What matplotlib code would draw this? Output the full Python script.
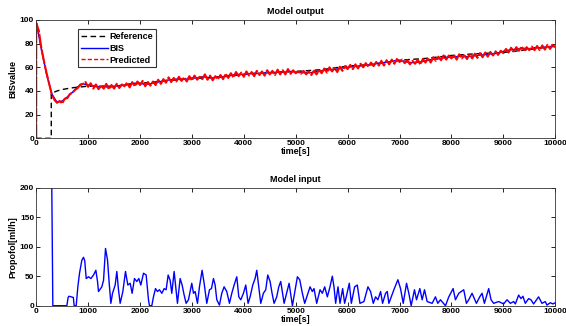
import matplotlib
matplotlib.use("Agg")
import matplotlib.pyplot as plt
import numpy as np

plt.rcParams['font.family'] = ['Liberation Sans', 'DejaVu Sans']
plt.rcParams['font.weight'] = 'bold'

# --- model output: reference trajectory ---
ref_t = [0, 290, 290, 400, 500, 600, 700, 800, 900, 1000, 1500, 2000, 2500, 3000, 3500,
         4000, 4500, 5000, 5500, 6000, 6500, 7000, 7500, 8000, 8500, 9000, 9500, 10000]
ref_y = [0, 0, 38, 40, 41.2, 42, 42.7, 43.2, 43.6, 44, 44, 46.5, 48.5, 50.5, 51.5,
         54, 55.5, 56.5, 58, 61, 62.5, 66, 67.5, 70, 71.5, 72.5, 75, 78]

# --- measured BIS (every 100 s) ---
bis_t = list(range(0, 10001, 100))
bis_y = [98, 75, 54, 37.5, 30.5, 31.5, 35, 39, 43.5, 46, 45, 44, 43.5, 44, 43, 44, 44.5, 45, 46, 46.5,
         46.5, 45.5, 46, 47, 48, 49, 49.5, 50, 50, 50, 51, 51, 52, 51.5, 51, 52, 52, 53, 53.5, 54,
         54, 54.5, 55, 55, 55, 55.5, 55.5, 56, 56, 56.5, 56, 55.5, 55.5, 55.5, 56.5, 57, 58, 58, 58.5, 59.5,
         60, 60.5, 61, 61.5, 62, 62.5, 63.5, 64, 64.5, 65.5, 65.5, 65, 64, 64, 64.5, 65.5, 66.5, 67, 67.5, 68.5,
         68.5, 69, 69.5, 69, 69.5, 70, 70.5, 71, 71.5, 72, 73.5, 74.5, 75, 75.5, 76, 75.5, 76.5, 76.5, 77, 77.5,
         77.5]

# --- model prediction (every 50 s, starts from 0 at t=0) ---
pred_t = [0] + list(range(0, 10001, 50))
pred_y = [0,
          97.5, 91, 76, 65, 55, 46, 37, 32.5, 30, 31.5, 29.5, 33.5, 34, 37.5, 38.5, 41, 42.5, 45.5, 46, 47.5,
          43.5, 46.5, 42, 45.5, 41.5, 44.5, 42, 46, 41.5, 45, 42, 46, 42.5, 45.5, 44, 47, 43, 47.5, 44, 48,
          45, 48.5, 44, 47.5, 44.5, 48, 45, 49.5, 46, 50, 47, 51.5, 47.5, 51, 48, 52, 48.5, 51.5, 48, 52.5,
          49, 53, 49.5, 52, 50, 54, 49.5, 53, 49, 52.5, 50, 53.5, 50, 54.5, 51, 55, 51.5, 56, 52.5, 55.5,
          52, 56.5, 53, 56, 52.5, 57, 53.5, 56.5, 53, 57.5, 54, 57, 53.5, 58, 54, 57.5, 54, 58.5, 54.5, 57.5,
          55, 56.5, 54.5, 57, 54, 56.5, 53.5, 57, 54, 58, 55, 59, 55.5, 60, 56.5, 59.5, 56, 60.5, 57, 61,
          58.5, 62, 58.5, 62.5, 59, 63, 60, 63.5, 60.5, 64, 61, 64.5, 61.5, 65.5, 61.5, 66, 62.5, 66.5, 63, 67,
          64.5, 66.5, 63.5, 66, 62.5, 65.5, 63, 66.5, 62.5, 67, 64, 68, 64, 68.5, 65.5, 69, 66, 70, 66.5, 70,
          67.5, 70.5, 66.5, 71, 67.5, 70, 67, 71, 67.5, 71.5, 68, 72, 68.5, 72.5, 69, 73, 70, 73.5, 70.5, 74,
          72, 75.5, 72.5, 76.5, 73.5, 77, 74, 77.5, 74.5, 77, 74.5, 77.5, 74.5, 78, 74.5, 78.5, 75, 79, 75.5, 79,
          77]

# --- model input: propofol infusion rate ---
u_t = [0, 280, 300, 320, 590, 615, 630, 715, 731, 770, 802, 834, 879, 911, 935, 963, 1008, 1053, 1104, 1149,
       1181, 1200, 1264, 1297, 1335, 1374, 1406, 1438, 1470, 1521, 1553, 1585, 1617, 1669, 1720, 1765, 1810, 1848,
       1893, 1938, 1977, 2015, 2067, 2118, 2163, 2182, 2227, 2259, 2298, 2336, 2375, 2420, 2465, 2503, 2542, 2580,
       2612, 2657, 2696, 2721, 2773, 2811, 2850, 2888, 2933, 2997, 3030, 3062, 3107, 3145, 3196, 3235, 3286, 3338,
       3376, 3415, 3447, 3479, 3530, 3575, 3620, 3671, 3723, 3768, 3813, 3864, 3903, 3941, 3992, 4037, 4082, 4121,
       4172, 4217, 4249, 4287, 4326, 4377, 4422, 4461, 4506, 4544, 4583, 4634, 4673, 4711, 4776, 4872, 4936, 5032,
       5077, 5128, 5173, 5276, 5320, 5352, 5404, 5468, 5513, 5558, 5609, 5660, 5705, 5737, 5769, 5814, 5853, 5904,
       5942, 5981, 6032, 6071, 6135, 6186, 6237, 6314, 6391, 6442, 6494, 6538, 6583, 6635, 6673, 6731, 6763, 6795,
       6891, 6968, 7019, 7071, 7135, 7179, 7224, 7288, 7327, 7391, 7436, 7481, 7532, 7628, 7692, 7737, 7788, 7885,
       7949, 8032, 8077, 8141, 8237, 8288, 8333, 8397, 8481, 8545, 8590, 8635, 8718, 8763, 8814, 8910, 9006, 9071,
       9135, 9199, 9231, 9295, 9340, 9378, 9423, 9487, 9532, 9583, 9679, 9744, 9808, 9840, 9904, 9955, 10000]
u_y = [1500, 1500, 200, 0, 0, 14, 16, 14, 0, 0, 32, 55, 77, 82, 76, 46, 49, 46, 52, 60,
       41, 24, 32, 43, 97, 77, 38, 4, 21, 35, 58, 27, 4, 24, 58, 35, 38, 21,
       46, 41, 46, 35, 55, 52, 10, 0, 0, 15, 29, 24, 27, 21, 29, 27, 52, 43,
       21, 58, 24, 4, 46, 35, 18, 4, 10, 38, 21, 24, 4, 32, 60, 38, 4, 27,
       29, 46, 35, 10, 1, 21, 32, 24, 4, 21, 35, 49, 15, 10, 21, 35, 4, 15,
       35, 46, 60, 32, 4, 21, 27, 52, 41, 21, 4, 15, 32, 41, 4, 38, 0, 49,
       44, 21, 4, 32, 24, 29, 4, 27, 21, 32, 15, 32, 50, 32, 4, 32, 4, 29,
       4, 18, 38, 4, 32, 35, 4, 7, 32, 24, 4, 15, 10, 24, 4, 21, 24, 4,
       27, 44, 29, 4, 38, 21, 0, 27, 10, 29, 10, 27, 7, 4, 15, 4, 10, 0,
       15, 29, 10, 21, 27, 4, 10, 21, 4, 15, 21, 4, 29, 10, 4, 7, 3, 10,
       4, 7, 3, 18, 12, 16, 4, 12, 10, 3, 15, 4, 7, 1, 5, 3, 5]

fig = plt.figure(figsize=(5.66, 3.26), dpi=100)
ax1 = fig.add_axes([0.064, 0.5758, 0.917, 0.3629])
ax2 = fig.add_axes([0.064, 0.0623, 0.917, 0.3620])

ax1.plot(ref_t, ref_y, 'k--', lw=1.0, label='Reference', dashes=(4, 2.5))
ax1.plot(bis_t, bis_y, color='#0000ff', lw=1.0, label='BIS')
ax1.plot(pred_t, pred_y, color='#ff0000', lw=1.5, ls='--', dashes=(7, 0.6), label='Predicted')
ax1.set_xlim(0, 10000)
ax1.set_ylim(0, 100)
ax1.set_yticks([0, 20, 40, 60, 80, 100])
ax1.set_title('Model output', fontsize=6.5, fontweight='bold', pad=4)
ax1.set_xlabel('time[s]', fontsize=6.5, fontweight='bold', labelpad=0)
ax1.set_ylabel('BISvalue', fontsize=6.5, fontweight='bold', labelpad=2)
leg = ax1.legend(loc='upper left', bbox_to_anchor=(0.081, 0.92), fontsize=6.5, frameon=True,
                 fancybox=False, edgecolor='black', handlelength=3, borderpad=0.3,
                 labelspacing=0.3, handletextpad=0.2, borderaxespad=0)
leg.get_frame().set_linewidth(0.8)
leg.get_lines()[2].set_dashes((3, 1.5))
leg.get_lines()[2].set_linewidth(1.0)

ax2.plot(u_t, u_y, color='#0000ff', lw=1.0)
ax2.set_xlim(0, 10000)
ax2.set_ylim(0, 200)
ax2.set_yticks([0, 50, 100, 150, 200])
ax2.set_title('Model input', fontsize=6.5, fontweight='bold', pad=4)
ax2.set_xlabel('time[s]', fontsize=6.5, fontweight='bold', labelpad=0)
ax2.set_ylabel('Propofol[ml/h]', fontsize=6.5, fontweight='bold', labelpad=2)

for ax in (ax1, ax2):
    ax.set_xticks(np.arange(0, 10001, 1000))
    ax.tick_params(direction='in', top=True, right=True, length=3, width=0.6,
                   labelsize=6, pad=1.5)
    for lbl in ax.get_xticklabels() + ax.get_yticklabels():
        lbl.set_fontweight('bold')
    for sp in ax.spines.values():
        sp.set_linewidth(0.6)
        sp.set_color('#333333')

fig.savefig('out.png', dpi=100)
